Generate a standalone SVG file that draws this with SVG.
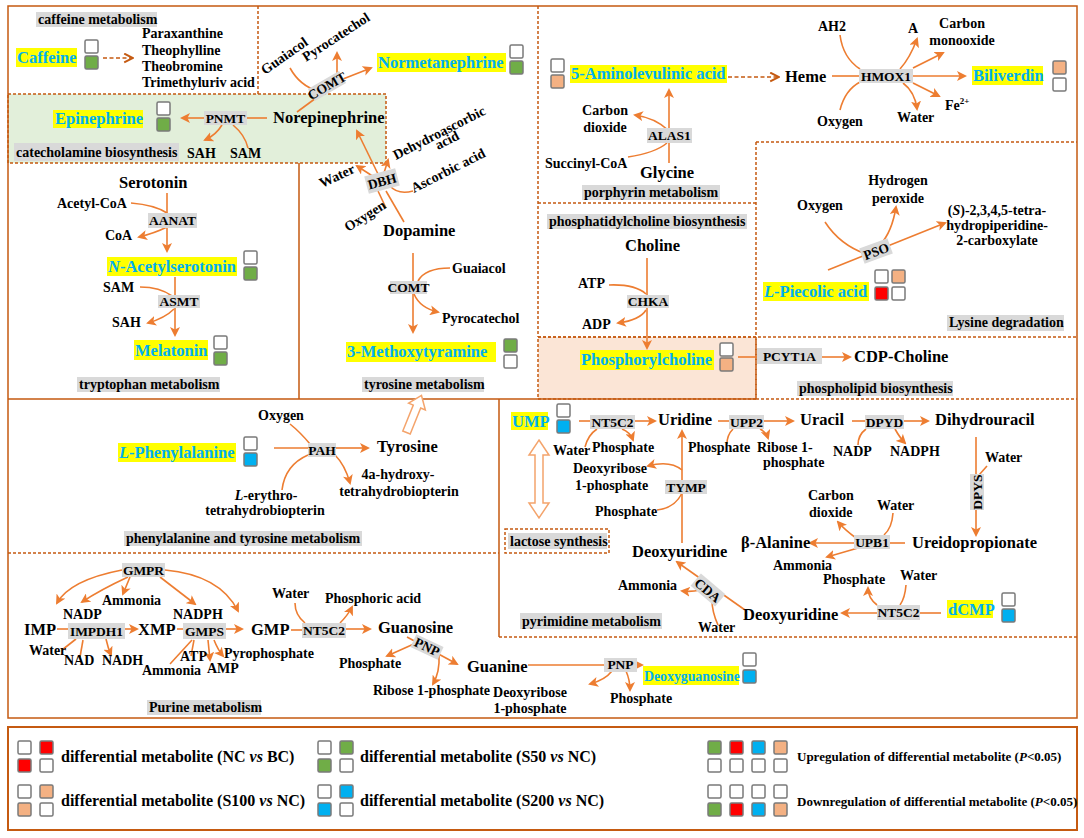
<svg xmlns="http://www.w3.org/2000/svg" width="1084" height="838" viewBox="0 0 1084 838">
<defs>
<style>
text{font-family:"Liberation Serif","Times New Roman",serif;font-weight:bold;fill:#000}
.s{font-size:14px}
.m{font-size:16.5px}
.h{font-size:16.5px;fill:#00b0f0}
.e{font-size:13.5px;text-anchor:middle}
.c{text-anchor:middle}
.lg{font-size:16px}
.lr{font-size:13px}
.g{fill:#d9d9d9}
.y{fill:#ffff00}
.ln{stroke:#ed7d31;stroke-width:1.6;fill:none}
.a{marker-end:url(#ah)}
.dl{stroke:#c55a11;stroke-width:1.6;stroke-dasharray:4 2.5;fill:none;marker-end:url(#ch)}
.sq{stroke:#7a7a7a;stroke-width:1.5}
.w{fill:#fff}.gr{fill:#70ad47}.rd{fill:#ff0000}.cy{fill:#00b0f0}.or{fill:#f4b183}
.dv{stroke:#c55a11;stroke-width:1.5;stroke-dasharray:3 2}
.sd{stroke:#c55a11;stroke-width:1.5}
.ho{fill:#fff;stroke:#f4a46c;stroke-width:1.5}
</style>
<marker id="ah" viewBox="0 0 10 10" refX="8" refY="5" markerWidth="10" markerHeight="10" markerUnits="userSpaceOnUse" orient="auto"><path d="M0,0 L10,5 L0,10 L2.5,5 z" fill="#ed7d31"/></marker>
<marker id="ch" viewBox="0 0 10 10" refX="9" refY="5" markerWidth="11" markerHeight="11" markerUnits="userSpaceOnUse" orient="auto"><path d="M1,1 L9,5 L1,9" fill="none" stroke="#c55a11" stroke-width="1.8"/></marker>
</defs>
<rect width="1084" height="838" fill="#fff"/>

<g id="regions">
<rect x="8" y="94" width="378" height="69" fill="#e2efda" class="dv"/>
<rect x="538" y="337" width="218" height="62" fill="#fbe5d6" class="dv"/>
<path class="dv" fill="none" d="M258,6 V94"/>
<path class="sd" fill="none" d="M299,163 V399 M8,399 H756 M499,399 V637"/>
<path class="dv" fill="none" d="M756,399 H1077 M538,6 V337 M756,142 H1077 M756,142 V399 M538,203 H756 M538,337 H1077 M8,553 H499 M499,637 H1077"/>
<rect x="8" y="6" width="1069" height="712" fill="none" class="sd"/>
<rect x="505" y="529" width="104" height="24" fill="none" class="dv"/>
</g>

<g id="labels">
<rect class="g" x="36" y="12" width="121" height="15"/><text class="s" x="38" y="24">caffeine metabolism</text>
<rect class="g" x="14" y="143" width="165" height="18"/><text class="s" x="16" y="157">catecholamine biosynthesis</text>
<rect class="g" x="77" y="377" width="143" height="15"/><text class="s" x="79" y="389">tryptophan metabolism</text>
<rect class="g" x="362" y="377" width="122" height="15"/><text class="s" x="364" y="389">tyrosine metabolism</text>
<rect class="g" x="582" y="185" width="138" height="15"/><text class="s" x="584" y="197">porphyrin metabolism</text>
<rect class="g" x="547" y="214" width="200" height="15"/><text class="s" x="549" y="226">phosphatidylcholine biosynthesis</text>
<rect class="g" x="947" y="315" width="117" height="16"/><text class="s" x="949" y="327">Lysine degradation</text>
<rect class="g" x="797" y="381" width="156" height="15"/><text class="s" x="799" y="393">phospholipid biosynthesis</text>
<rect class="g" x="124" y="531" width="238" height="15"/><text class="s" x="126" y="543">phenylalanine and tyrosine metabolism</text>
<rect class="g" x="147" y="700" width="114" height="15"/><text class="s" x="149" y="712">Purine metabolism</text>
<rect class="g" x="508" y="533" width="99" height="16"/><text class="s" x="510" y="546">lactose synthesis</text>
<rect class="g" x="520" y="613" width="142" height="16"/><text class="s" x="522" y="626">pyrimidine metabolism</text>
</g>

<g id="connectors">
<path class="dl" d="M103,58 H133"/>
<path class="dl" d="M728,77 H779"/>
<path class="ln a" d="M204,118 H182"/>
<path class="ln" d="M247,118 H267"/>
<path class="ln a" d="M222,125 Q216,135 205,140"/>
<path class="ln" d="M233,125 Q245,135 248,148"/>
<path class="ln" d="M297,112 L316,98"/>
<path class="ln a" d="M337,75 V53"/>
<path class="ln" d="M290,68 Q300,86 318,91"/>
<path class="ln a" d="M343,79 L371,68"/>
<path class="ln a" d="M378,174 L357,131"/>
<path class="ln a" d="M374,177 L357,166"/>
<path class="ln a" d="M384,173 L388,160"/>
<path class="ln" d="M413,191 Q398,195 390,186"/>
<path class="ln" d="M386,208 L378,191"/>
<path class="ln" d="M404,222 L386,191"/>
<path class="ln a" d="M413,253 V332"/>
<path class="ln" d="M450,268 Q425,268 418,281"/>
<path class="ln a" d="M414,294 Q420,308 438,312"/>
<path class="ln a" d="M167,193 V251"/>
<path class="ln" d="M131,203 Q155,205 167,213"/>
<path class="ln a" d="M167,227 Q155,233 139,237"/>
<path class="ln a" d="M175,277 V335"/>
<path class="ln" d="M140,287 Q160,287 172,296"/>
<path class="ln a" d="M174,309 Q165,318 148,323"/>
<path class="ln a" d="M669,163 V90"/>
<path class="ln a" d="M668,130 Q655,118 635,115"/>
<path class="ln" d="M628,157 Q655,153 667,143"/>
<path class="ln" d="M832,76 H859"/>
<path class="ln a" d="M913,76 H965"/>
<path class="ln" d="M840,35 Q843,58 860,69"/>
<path class="ln" d="M840,110 Q845,90 860,82"/>
<path class="ln a" d="M900,69 Q910,58 917,39"/>
<path class="ln a" d="M913,68 L943,53"/>
<path class="ln a" d="M913,83 L939,96"/>
<path class="ln a" d="M903,83 Q915,92 917,109"/>
<path class="ln a" d="M647,258 V348"/>
<path class="ln" d="M609,285 Q635,284 646,294"/>
<path class="ln a" d="M646,310 Q640,320 618,323"/>
<path class="ln" d="M738,357 H757"/>
<path class="ln a" d="M822,357 H850"/>
<path class="ln a" d="M828,270 L945,223"/>
<path class="ln" d="M825,222 Q840,245 866,254"/>
<path class="ln a" d="M880,245 Q892,232 896,207"/>
<path class="ln" d="M274,448 H308"/>
<path class="ln" d="M290,424 Q300,432 310,444"/>
<path class="ln a" d="M336,448 H368"/>
<path class="ln a" d="M335,455 Q345,465 350,483"/>
<path class="ln" d="M282,490 Q285,465 308,455"/>
<path class="ln" d="M57,629 H68"/>
<path class="ln a" d="M125,629 H137"/>
<path class="ln" d="M177,629 H183"/>
<path class="ln a" d="M226,629 H242"/>
<path class="ln a" d="M122,570 Q70,580 57,603"/>
<path class="ln a" d="M128,577 Q100,590 82,602"/>
<path class="ln a" d="M130,577 L123,594"/>
<path class="ln a" d="M160,577 L195,604"/>
<path class="ln a" d="M165,570 Q220,575 238,611"/>
<path class="ln" d="M62,650 L76,639"/>
<path class="ln" d="M80,657 L83,640"/>
<path class="ln a" d="M106,639 Q108,648 111,655"/>
<path class="ln" d="M170,664 L192,640"/>
<path class="ln" d="M191,656 L194,640"/>
<path class="ln a" d="M208,640 L210,660"/>
<path class="ln a" d="M214,640 Q218,650 223,656"/>
<path class="ln" d="M295,603 Q295,615 305,623"/>
<path class="ln" d="M291,630 H302"/>
<path class="ln a" d="M346,629 H370"/>
<path class="ln a" d="M340,623 Q348,615 352,607"/>
<path class="ln a" d="M407,637 L457,664"/>
<path class="ln a" d="M416,643 L387,656"/>
<path class="ln a" d="M439,655 Q440,672 433,684"/>
<path class="ln" d="M528,665 H604"/>
<path class="ln a" d="M637,665 H642"/>
<path class="ln a" d="M612,671 Q605,680 590,684"/>
<path class="ln a" d="M626,671 Q630,680 630,690"/>
<path class="ln" d="M579,421 H590"/>
<path class="ln a" d="M635,421 H655"/>
<path class="ln" d="M585,447 Q588,435 597,429"/>
<path class="ln a" d="M622,429 Q630,432 633,440"/>
<path class="ln" d="M718,421 H729"/>
<path class="ln a" d="M764,421 H793"/>
<path class="ln" d="M733,429 Q727,435 727,444"/>
<path class="ln a" d="M760,429 Q766,432 768,438"/>
<path class="ln a" d="M682,543 V431"/>
<path class="ln a" d="M682,470 Q670,460 648,466"/>
<path class="ln" d="M657,510 Q675,508 682,493"/>
<path class="ln a" d="M745,610 L677,562"/>
<path class="ln a" d="M700,590 Q692,592 682,591"/>
<path class="ln" d="M718,625 Q712,612 712,600"/>
<path class="ln" d="M852,421 H865"/>
<path class="ln a" d="M904,421 H928"/>
<path class="ln" d="M858,445 Q858,435 866,429"/>
<path class="ln a" d="M895,429 Q900,438 905,443"/>
<path class="ln a" d="M976,437 V535"/>
<path class="ln" d="M987,466 L979,475"/>
<path class="ln" d="M905,543 H890"/>
<path class="ln a" d="M854,543 H810"/>
<path class="ln a" d="M856,538 Q845,530 838,522"/>
<path class="ln" d="M893,513 Q892,528 884,535"/>
<path class="ln a" d="M858,548 L827,557"/>
<path class="ln a" d="M877,605 Q868,598 868,588"/>
<path class="ln" d="M906,585 Q905,598 900,605"/>
<path class="ln" d="M941,613 H920"/>
<path class="ln a" d="M877,613 H842"/>
<polygon class="ho" transform="translate(414,414) rotate(22)" points="0,-20 9,-8 4,-8 4,20 -4,20 -4,-8 -9,-8"/>
<polygon class="ho" points="539,440 549,455 543,455 543,503 549,503 539,518 529,503 535,503 535,455 529,455"/>
</g>

<g id="caffeine">
<rect class="y" x="16" y="48" width="61" height="19"/><text class="h" x="17" y="63">Caffeine</text>
<rect class="sq w" x="85" y="40" width="13" height="13" rx="1.5"/><rect class="sq gr" x="85" y="56" width="13" height="13" rx="1.5"/>
<text class="s" x="142" y="38">Paraxanthine</text>
<text class="s" x="142" y="55">Theophylline</text>
<text class="s" x="142" y="71">Theobromine</text>
<text class="s" x="142" y="87">Trimethyluriv acid</text>
</g>

<g id="epinephrine">
<rect class="y" x="53" y="110" width="90" height="18"/><text class="h" x="55" y="124">Epinephrine</text>
<rect class="sq w" x="157" y="102" width="13" height="13" rx="1.5"/><rect class="sq gr" x="157" y="118" width="13" height="13" rx="1.5"/>
</g>
<g id="pnmt"><rect class="g" x="204" y="111" width="43" height="14"/><text class="e" x="225.5" y="122.5">PNMT</text>
<text class="s" x="187" y="158">SAH</text><text class="s" x="230" y="158">SAM</text></g>
<g id="norepinephrine"><text class="m" x="273" y="123">Norepinephrine</text></g>
<g id="comt1">
<g transform="translate(327,86) rotate(-30)"><rect class="g" x="-18" y="-7" width="36" height="14"/><text class="e" x="0" y="4.5">COMT</text></g>
<text class="s" transform="translate(265,75) rotate(-35)">Guaiacol</text>
<text class="s" transform="translate(306,62) rotate(-33)">Pyrocatechol</text>
</g>
<g id="normetanephrine">
<rect class="y" x="377" y="53" width="129" height="19"/><text class="h" x="378" y="68">Normetanephrine</text>
<rect class="sq w" x="510" y="45" width="13" height="13" rx="1.5"/><rect class="sq gr" x="510" y="61" width="13" height="13" rx="1.5"/>
</g>
<g id="dbh">
<g transform="translate(382,181) rotate(-15)"><rect class="g" x="-16" y="-9" width="32" height="18"/><text class="e" x="0" y="5">DBH</text></g>
<text class="s" transform="translate(322,188) rotate(-25)">Water</text>
<text class="s" transform="translate(396,160) rotate(-27)">Dehydroascorbic</text>
<text class="s" transform="translate(438,150) rotate(-27)">acid</text>
<text class="s" transform="translate(414,193) rotate(-27)">Ascorbic acid</text>
<text class="s" transform="translate(348,232) rotate(-32)">Oxygen</text>
</g>
<g id="dopamine"><text class="m" x="383" y="236">Dopamine</text></g>
<g id="comt2"><rect class="g" x="390" y="281" width="37" height="13"/><text class="e" x="408.5" y="291.5">COMT</text>
<text class="s" x="452" y="273">Guaiacol</text><text class="s" x="442" y="323">Pyrocatechol</text></g>
<g id="methoxytyramine">
<rect class="y" x="346" y="342" width="150" height="20"/><text class="h" x="347" y="357">3-Methoxytyramine</text>
<rect class="sq gr" x="504" y="339" width="13" height="13" rx="1.5"/><rect class="sq w" x="504" y="355" width="13" height="13" rx="1.5"/>
</g>

<g id="serotonin"><text class="m" x="119" y="188">Serotonin</text></g>
<g id="aanat"><rect class="g" x="148" y="213" width="49" height="15"/><text class="e" x="172.5" y="225">AANAT</text>
<text class="s" x="57" y="208">Acetyl-CoA</text><text class="s" x="105" y="240">CoA</text></g>
<g id="acetylserotonin">
<rect class="y" x="107" y="257" width="130" height="19"/><text class="h" x="108" y="272"><tspan font-style="italic">N</tspan>-Acetylserotonin</text>
<rect class="sq w" x="244" y="251" width="13" height="13" rx="1.5"/><rect class="sq gr" x="244" y="267" width="13" height="13" rx="1.5"/>
</g>
<g id="asmt"><rect class="g" x="158" y="295" width="42" height="13"/><text class="e" x="179" y="306">ASMT</text>
<text class="s" x="103" y="292">SAM</text><text class="s" x="112" y="327">SAH</text></g>
<g id="melatonin">
<rect class="y" x="134" y="340" width="74" height="20"/><text class="h" x="135" y="356">Melatonin</text>
<rect class="sq w" x="214" y="336" width="13" height="13" rx="1.5"/><rect class="sq gr" x="214" y="352" width="13" height="13" rx="1.5"/>
</g>

<g id="aminolevulinic">
<rect class="y" x="570" y="65" width="157" height="18"/><text class="h" x="571" y="79">5-Aminolevulinic acid</text>
<rect class="sq w" x="551" y="59" width="13" height="13" rx="1.5"/><rect class="sq or" x="551" y="75" width="13" height="13" rx="1.5"/>
</g>
<g id="alas1"><rect class="g" x="647" y="128" width="45" height="15"/><text class="e" x="669.5" y="140">ALAS1</text>
<text class="s c" x="605" y="115">Carbon</text><text class="s c" x="605" y="132">dioxide</text>
<text class="s" x="545" y="168">Succinyl-CoA</text></g>
<g id="glycine"><text class="m" x="640" y="178">Glycine</text></g>
<g id="heme"><text class="m" x="785" y="82">Heme</text></g>
<g id="hmox1"><rect class="g" x="859" y="69" width="54" height="14"/><text class="e" x="886" y="80.5">HMOX1</text>
<text class="s" x="818" y="31">AH2</text><text class="s" x="817" y="126">Oxygen</text>
<text class="s" x="908" y="33">A</text>
<text class="s c" x="962" y="28">Carbon</text><text class="s c" x="962" y="45">monooxide</text>
<text class="s" x="945" y="110">Fe<tspan font-size="9" dy="-6">2+</tspan></text>
<text class="s" x="897" y="122">Water</text></g>
<g id="biliverdin">
<rect class="y" x="972" y="66" width="71" height="19"/><text class="h" x="973" y="81">Biliverdin</text>
<rect class="sq or" x="1053" y="61" width="13" height="13" rx="1.5"/><rect class="sq w" x="1053" y="78" width="13" height="13" rx="1.5"/>
</g>

<g id="choline"><text class="m" x="625" y="251">Choline</text></g>
<g id="chka"><rect class="g" x="627" y="295" width="42" height="13"/><text class="e" x="648" y="306">CHKA</text>
<text class="s" x="578" y="288">ATP</text><text class="s" x="582" y="329">ADP</text></g>
<g id="phosphorylcholine">
<rect class="y" x="580" y="350" width="134" height="20"/><text class="h" x="581" y="365">Phosphorylcholine</text>
<rect class="sq w" x="720" y="343" width="13" height="13" rx="1.5"/><rect class="sq or" x="720" y="358" width="13" height="13" rx="1.5"/>
</g>
<g id="pcyt1a"><rect class="g" x="757" y="348" width="65" height="16"/><text class="e" x="789.5" y="361">PCYT1A</text></g>
<g id="cdpcholine"><text class="m" x="854" y="362">CDP-Choline</text></g>

<g id="pso">
<g transform="translate(876,251) rotate(-20)"><rect class="g" x="-15" y="-8" width="30" height="16"/><text class="e" x="0" y="5">PSO</text></g>
<text class="s" x="797" y="210">Oxygen</text>
<text class="s c" x="898" y="185">Hydrogen</text><text class="s c" x="898" y="203">peroxide</text>
<text class="s c" x="997" y="215">(<tspan font-style="italic">S</tspan>)-2,3,4,5-tetra-</text>
<text class="s c" x="997" y="230">hydropiperidine-</text>
<text class="s c" x="997" y="245">2-carboxylate</text>
</g>
<g id="piecolic">
<rect class="y" x="763" y="282" width="106" height="19"/><text class="h" x="764" y="297"><tspan font-style="italic">L</tspan>-Piecolic acid</text>
<rect class="sq w" x="875" y="270" width="13" height="13" rx="1.5"/><rect class="sq or" x="892" y="270" width="13" height="13" rx="1.5"/>
<rect class="sq rd" x="875" y="287" width="13" height="13" rx="1.5"/><rect class="sq w" x="892" y="287" width="13" height="13" rx="1.5"/>
</g>

<g id="phenylalanine">
<rect class="y" x="118" y="443" width="118" height="19"/><text class="h" x="119" y="458"><tspan font-style="italic">L</tspan>-Phenylalanine</text>
<rect class="sq w" x="244" y="437" width="13" height="13" rx="1.5"/><rect class="sq cy" x="244" y="453" width="13" height="13" rx="1.5"/>
</g>
<g id="pah"><rect class="g" x="308" y="443" width="28" height="14"/><text class="e" x="322" y="454.5">PAH</text>
<text class="s" x="258" y="420">Oxygen</text>
<text class="s c" x="266" y="500"><tspan font-style="italic">L</tspan>-erythro-</text>
<text class="s c" x="265" y="515">tetrahydrobiopterin</text>
<text class="s c" x="398" y="479">4a-hydroxy-</text>
<text class="s c" x="399" y="496">tetrahydrobiopterin</text></g>
<g id="tyrosine"><text class="m" x="377" y="452">Tyrosine</text></g>

<g id="gmpr"><rect class="g" x="122" y="563" width="43" height="14"/><text class="e" x="143.5" y="574.5">GMPR</text>
<text class="s" x="63" y="619">NADP</text><text class="s" x="102" y="605">Ammonia</text><text class="s" x="173" y="619">NADPH</text></g>
<g id="imp"><text class="m" x="24" y="635">IMP</text></g>
<g id="impdh1"><rect class="g" x="68" y="623" width="57" height="16"/><text class="e" x="96.5" y="635.5">IMPDH1</text>
<text class="s" x="29" y="655">Water</text><text class="s" x="64" y="665">NAD</text><text class="s" x="102" y="665">NADH</text></g>
<g id="xmp"><text class="m" x="138" y="635">XMP</text></g>
<g id="gmps"><rect class="g" x="183" y="623" width="43" height="16"/><text class="e" x="204.5" y="635.5">GMPS</text>
<text class="s" x="142" y="675">Ammonia</text><text class="s" x="180" y="661">ATP</text><text class="s" x="207" y="673">AMP</text><text class="s" x="224" y="658">Pyrophosphate</text></g>
<g id="gmp"><text class="m" x="251" y="635">GMP</text></g>
<g id="nt5c2a"><rect class="g" x="302" y="623" width="44" height="15"/><text class="e" x="324" y="635">NT5C2</text>
<text class="s" x="272" y="598">Water</text><text class="s" x="325" y="603">Phosphoric acid</text></g>
<g id="guanosine"><text class="m" x="378" y="633">Guanosine</text></g>
<g id="pnp1">
<g transform="translate(427,647) rotate(25)"><rect class="g" x="-15" y="-7" width="30" height="14"/><text class="e" x="0" y="4.5">PNP</text></g>
<text class="s" x="339" y="668">Phosphate</text><text class="s" x="373" y="695">Ribose 1-phosphate</text>
</g>
<g id="guanine"><text class="m" x="467" y="672">Guanine</text></g>
<g id="pnp2"><rect class="g" x="604" y="658" width="33" height="14"/><text class="e" x="620.5" y="669">PNP</text>
<text class="s c" x="530" y="697">Deoxyribose</text><text class="s c" x="530" y="713">1-phosphate</text>
<text class="s" x="610" y="703">Phosphate</text></g>
<g id="deoxyguanosine">
<rect class="y" x="643" y="666" width="96" height="19"/><text class="h" x="644" y="680.5" style="font-size:13.8px">Deoxyguanosine</text>
<rect class="sq w" x="743" y="653" width="13" height="13" rx="1.5"/><rect class="sq cy" x="743" y="670" width="13" height="13" rx="1.5"/>
</g>

<g id="ump">
<rect class="y" x="511" y="412" width="37" height="18"/><text class="h" x="512" y="427">UMP</text>
<rect class="sq w" x="557" y="404" width="13" height="13" rx="1.5"/><rect class="sq cy" x="557" y="420" width="13" height="13" rx="1.5"/>
</g>
<g id="nt5c2b"><rect class="g" x="590" y="415" width="45" height="14"/><text class="e" x="612.5" y="426.5">NT5C2</text>
<text class="s" x="553" y="455">Water</text><text class="s" x="592" y="452">Phosphate</text></g>
<g id="uridine"><text class="m" x="658" y="425">Uridine</text></g>
<g id="upp2"><rect class="g" x="729" y="415" width="35" height="14"/><text class="e" x="746.5" y="426.5">UPP2</text>
<text class="s" x="688" y="452">Phosphate</text><text class="s" x="757" y="452">Ribose 1-</text><text class="s" x="763" y="467">phosphate</text></g>
<g id="uracil"><text class="m" x="800" y="425">Uracil</text></g>
<g id="dpyd"><rect class="g" x="865" y="415" width="39" height="14"/><text class="e" x="884.5" y="426.5">DPYD</text>
<text class="s" x="833" y="456">NADP</text><text class="s" x="890" y="456">NADPH</text></g>
<g id="dihydrouracil"><text class="m" x="935" y="425">Dihydrouracil</text></g>
<g id="dpys">
<g transform="translate(977,492) rotate(-90)"><rect class="g" x="-18" y="-7" width="36" height="14"/><text class="e" x="0" y="4.5">DPYS</text></g>
<text class="s" x="985" y="462">Water</text>
</g>
<g id="ureidopropionate"><text class="m" x="912" y="548">Ureidopropionate</text></g>
<g id="upb1"><rect class="g" x="854" y="535" width="36" height="14"/><text class="e" x="872" y="546.5">UPB1</text>
<text class="s" x="808" y="500">Carbon</text><text class="s" x="809" y="517">dioxide</text>
<text class="s" x="877" y="510">Water</text><text class="s" x="773" y="570">Ammonia</text></g>
<g id="alanine"><text class="m" x="741" y="548">β-Alanine</text></g>
<g id="tymp"><rect class="g" x="665" y="480" width="42" height="14"/><text class="e" x="686" y="491.5">TYMP</text>
<text class="s" x="573" y="473">Deoxyribose</text><text class="s" x="575" y="490">1-phosphate</text>
<text class="s" x="595" y="516">Phosphate</text></g>
<g id="deoxyuridine1"><text class="m" x="632" y="557">Deoxyuridine</text></g>
<g id="cda">
<g transform="translate(708,590) rotate(40)"><rect class="g" x="-16" y="-8" width="32" height="16"/><text class="e" x="0" y="5">CDA</text></g>
<text class="s" x="618" y="590">Ammonia</text><text class="s" x="698" y="632">Water</text>
</g>
<g id="deoxyuridine2"><text class="m" x="743" y="620">Deoxyuridine</text></g>
<g id="nt5c2c"><rect class="g" x="877" y="605" width="43" height="15"/><text class="e" x="898.5" y="617">NT5C2</text>
<text class="s" x="823" y="584">Phosphate</text><text class="s" x="900" y="580">Water</text></g>
<g id="dcmp">
<rect class="y" x="947" y="600" width="46" height="18"/><text class="h" x="948" y="615">dCMP</text>
<rect class="sq w" x="1002" y="593" width="13" height="13" rx="1.5"/><rect class="sq cy" x="1002" y="609" width="13" height="13" rx="1.5"/>
</g>

<g id="legend">
<rect x="8" y="727" width="1069" height="103" fill="none" stroke="#c55a11" stroke-width="2"/>
<rect class="sq w" x="18" y="741" width="13" height="13" rx="1.5"/><rect class="sq rd" x="40" y="741" width="13" height="13" rx="1.5"/>
<rect class="sq rd" x="18" y="759" width="13" height="13" rx="1.5"/><rect class="sq w" x="40" y="759" width="13" height="13" rx="1.5"/>
<text class="lg" x="61" y="762">differential metabolite (NC <tspan font-style="italic">vs</tspan> BC)</text>
<rect class="sq w" x="318" y="741" width="13" height="13" rx="1.5"/><rect class="sq gr" x="340" y="741" width="13" height="13" rx="1.5"/>
<rect class="sq gr" x="318" y="759" width="13" height="13" rx="1.5"/><rect class="sq w" x="340" y="759" width="13" height="13" rx="1.5"/>
<text class="lg" x="360" y="762">differential metabolite (S50 <tspan font-style="italic">vs</tspan> NC)</text>
<rect class="sq gr" x="708" y="741" width="13" height="13" rx="1.5"/><rect class="sq rd" x="730" y="741" width="13" height="13" rx="1.5"/><rect class="sq cy" x="752" y="741" width="13" height="13" rx="1.5"/><rect class="sq or" x="774" y="741" width="13" height="13" rx="1.5"/>
<rect class="sq w" x="708" y="759" width="13" height="13" rx="1.5"/><rect class="sq w" x="730" y="759" width="13" height="13" rx="1.5"/><rect class="sq w" x="752" y="759" width="13" height="13" rx="1.5"/><rect class="sq w" x="774" y="759" width="13" height="13" rx="1.5"/>
<text class="lr" x="797" y="761">Upregulation of differential metabolite (<tspan font-style="italic">P</tspan>&lt;0.05)</text>
<rect class="sq w" x="18" y="785" width="13" height="13" rx="1.5"/><rect class="sq or" x="40" y="785" width="13" height="13" rx="1.5"/>
<rect class="sq or" x="18" y="803" width="13" height="13" rx="1.5"/><rect class="sq w" x="40" y="803" width="13" height="13" rx="1.5"/>
<text class="lg" x="61" y="806">differential metabolite (S100 <tspan font-style="italic">vs</tspan> NC)</text>
<rect class="sq w" x="318" y="785" width="13" height="13" rx="1.5"/><rect class="sq cy" x="340" y="785" width="13" height="13" rx="1.5"/>
<rect class="sq cy" x="318" y="803" width="13" height="13" rx="1.5"/><rect class="sq w" x="340" y="803" width="13" height="13" rx="1.5"/>
<text class="lg" x="360" y="806">differential metabolite (S200 <tspan font-style="italic">vs</tspan> NC)</text>
<rect class="sq w" x="708" y="785" width="13" height="13" rx="1.5"/><rect class="sq w" x="730" y="785" width="13" height="13" rx="1.5"/><rect class="sq w" x="752" y="785" width="13" height="13" rx="1.5"/><rect class="sq w" x="774" y="785" width="13" height="13" rx="1.5"/>
<rect class="sq gr" x="708" y="803" width="13" height="13" rx="1.5"/><rect class="sq rd" x="730" y="803" width="13" height="13" rx="1.5"/><rect class="sq cy" x="752" y="803" width="13" height="13" rx="1.5"/><rect class="sq or" x="774" y="803" width="13" height="13" rx="1.5"/>
<text class="lr" x="797" y="806">Downregulation of differential metabolite (<tspan font-style="italic">P</tspan>&lt;0.05)</text>
</g>
</svg>
